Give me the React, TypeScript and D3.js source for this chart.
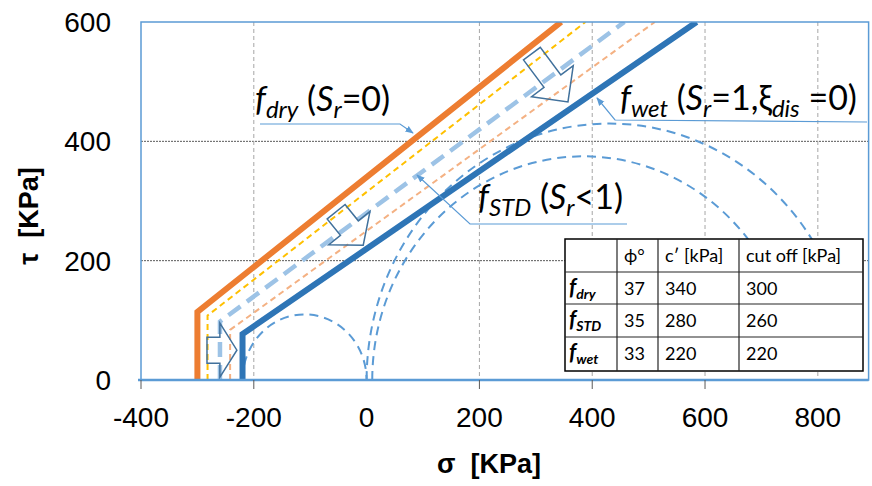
import React from "react";
import * as d3 from "d3";

// failure envelopes: vertex lists (sigma, tau)
const dryLineSigma = [-300, -300, 345];
const dryLineTau = [0, 114, 600];
const yellowLineSigma = [-282, -282, 388];
const yellowLineTau = [0, 108, 600];
const stdLineSigma = [-260, -260, 457];
const stdLineTau = [0, 98, 600];
const salmonLineSigma = [-242, -242, 511];
const salmonLineTau = [0, 84, 600];
const wetLineSigma = [-220, -220, 585];
const wetLineTau = [0, 77, 600];

// Mohr circles (center, radius in kPa)
const circleCenters = [-110, 385, 430];
const circleRadii = [110, 375, 430];

// block arrows: tail -> tip in data units
const arrowTailSigma = [-283, -54, 293];
const arrowTailTau = [50, 282, 547];
const arrowTipSigma = [-230, -6, 357];
const arrowTipTau = [50, 226, 466];

const xTicks = [-400, -200, 0, 200, 400, 600, 800];
const xTickMarks = [-400, -200, 200, 400, 600];
const xGrid = [-200, 200, 400, 600, 800];
const yTicks = [0, 200, 400, 600];
const yGrid = [200, 400];

// table
const tableHeaders = ["", "ϕ°", "c′ [kPa]", "cut off [kPa]"];
const tableNames = ["dry", "STD", "wet"];
const tablePhi = [37, 35, 33];
const tableCohesion = [340, 280, 220];
const tableCutOff = [300, 260, 220];

const W = 872;
const H = 486;
const left = 141;
const right = 868.6;
const top = 22;
const bottom = 380;

const x = d3.scaleLinear().domain([-400, 890]).range([left, right]);
const y = d3.scaleLinear().domain([0, 600]).range([bottom, top]);

const FONT = "Liberation Sans, Arial, sans-serif";
const CAL = "Lato, sans-serif";

const zipPts = (s: number[], t: number[]) => s.map((v, i) => [v, t[i]] as [number, number]);

const lineGen = d3
  .line<[number, number]>()
  .x((d) => x(d[0]))
  .y((d) => y(d[1]));

function blockArrow(i: number, bodyW: number, headW: number, headL: number) {
  const x0 = x(arrowTailSigma[i]);
  const y0 = y(arrowTailTau[i]);
  const x1 = x(arrowTipSigma[i]);
  const y1 = y(arrowTipTau[i]);
  const len = Math.hypot(x1 - x0, y1 - y0);
  const ux = (x1 - x0) / len;
  const uy = (y1 - y0) / len;
  const nx = -uy;
  const ny = ux;
  const bx = x1 - ux * headL;
  const by = y1 - uy * headL;
  const p = (px: number, py: number, off: number) => [px + nx * off, py + ny * off];
  const pts = [
    p(x0, y0, bodyW / 2),
    p(bx, by, bodyW / 2),
    p(bx, by, headW / 2),
    [x1, y1],
    p(bx, by, -headW / 2),
    p(bx, by, -bodyW / 2),
    p(x0, y0, -bodyW / 2),
  ];
  return "M" + pts.map((q) => q.join(",")).join("L") + "Z";
}

function semicircle(c: number, r: number) {
  const rx = x(c + r) - x(c);
  const ry = y(0) - y(r);
  return `M${x(c - r)},${y(0)} A${rx},${ry} 0 0 1 ${x(c + r)},${y(0)}`;
}

const LBL = 34;
const SUB = 24;

const Label = ({ x0, y0, name, tail }: { x0: number; y0: number; name: string; tail: React.ReactNode }) => (
  <text x={x0} y={y0} fontFamily={CAL} fontSize={LBL} fill="#000">
    <tspan fontStyle="italic">f</tspan>
    <tspan fontStyle="italic" fontSize={SUB} dy={7}>
      {name}
    </tspan>
    <tspan dy={-7}> (</tspan>
    <tspan fontStyle="italic">S</tspan>
    <tspan fontStyle="italic" fontSize={SUB} dy={7}>
      r
    </tspan>
    {tail}
  </text>
);

export default function App() {
  const envelopes = [
    { pts: zipPts(yellowLineSigma, yellowLineTau), color: "#FFC000", w: 2, dash: "6,4" },
    { pts: zipPts(salmonLineSigma, salmonLineTau), color: "#F4B183", w: 2, dash: "6,4" },
    { pts: zipPts(stdLineSigma, stdLineTau), color: "#9DC3E6", w: 4.5, dash: "15,8" },
    { pts: zipPts(dryLineSigma, dryLineTau), color: "#ED7D31", w: 6, dash: undefined },
    { pts: zipPts(wetLineSigma, wetLineTau), color: "#2E75B6", w: 6, dash: undefined },
  ];

  const arrowDims = [
    [26, 54, 17],
    [23, 53, 22],
    [21, 52, 26],
  ];

  // table layout
  const colX = [565, 617, 658, 739, 863];
  const rowY = [239, 272, 304, 337, 371];

  // circles are hidden behind the table down to the axis
  const circleClip =
    `M${left},${top}H${right}V${bottom}H${left}Z ` +
    `M${colX[0]},${rowY[0]}H${colX[4]}V${bottom}H${colX[0]}Z`;

  return (
    <svg
      width={W}
      height={H}
      style={{ position: "absolute", left: 0, top: 0, background: "#fff" }}
    >
      <defs>
        <clipPath id="plot">
          <rect x={left} y={top} width={right - left} height={bottom - top} />
        </clipPath>
        <clipPath id="circles">
          <path d={circleClip} clipRule="evenodd" />
        </clipPath>
        <marker id="ah" viewBox="0 0 10 10" refX="9" refY="5" markerWidth="7" markerHeight="7" orient="auto">
          <path d="M0,1 L10,5 L0,9 Z" fill="#5B9BD5" />
        </marker>
      </defs>

      {/* gridlines */}
      {yGrid.map((t) => (
        <line key={"gy" + t} x1={left} x2={right} y1={y(t)} y2={y(t)} stroke="#595959" strokeWidth={1} strokeDasharray="2,1" />
      ))}
      {xGrid.map((s) => (
        <line key={"gx" + s} x1={x(s)} x2={x(s)} y1={top} y2={bottom} stroke="#A6A6A6" strokeWidth={1} strokeDasharray="4,3" />
      ))}

      {/* Mohr circles */}
      <g clipPath="url(#circles)">
        {circleCenters.map((c, i) => (
          <path key={"c" + i} d={semicircle(c, circleRadii[i])} fill="none" stroke="#5B9BD5" strokeWidth={2} strokeDasharray="9,6" />
        ))}
      </g>

      <g clipPath="url(#plot)">
        {envelopes.map((e, i) => (
          <path
            key={"e" + i}
            d={lineGen(e.pts) || ""}
            fill="none"
            stroke={e.color}
            strokeWidth={e.w}
            strokeDasharray={e.dash}
            strokeLinejoin="miter"
          />
        ))}
        {arrowDims.map((d, i) => (
          <path key={"a" + i} d={blockArrow(i, d[0], d[1], d[2])} fill="none" stroke="#41719C" strokeWidth={1.5} strokeLinejoin="miter" />
        ))}
      </g>

      {/* plot frame */}
      <rect x={left} y={top} width={right - left} height={bottom - top} fill="none" stroke="#5B9BD5" strokeWidth={1.5} />
      <line x1={left - 3} x2={right} y1={bottom} y2={bottom} stroke="#5B9BD5" strokeWidth={2.5} />
      {xTickMarks.map((s) => (
        <line key={"tm" + s} x1={x(s)} x2={x(s)} y1={bottom} y2={bottom + 9} stroke="#595959" strokeWidth={1} />
      ))}

      {/* tick labels */}
      {xTicks.map((s) => (
        <text key={"xt" + s} x={x(s)} y={427} textAnchor="middle" fontFamily={FONT} fontSize={28} fill="#000">
          {s}
        </text>
      ))}
      {yTicks.map((t) => (
        <text key={"yt" + t} x={111} y={y(t) + 10} textAnchor="end" fontFamily={FONT} fontSize={28} fill="#000">
          {t}
        </text>
      ))}

      {/* axis titles */}
      <text x={489} y={473} textAnchor="middle" fontFamily={FONT} fontSize={27} fontWeight="bold">
        σ{"\u00a0\u00a0"}[KPa]
      </text>
      <text transform="translate(38,216) rotate(-90)" textAnchor="middle" fontFamily={FONT} fontSize={27} fontWeight="bold">
        τ{"\u00a0\u00a0"}[KPa]
      </text>

      {/* callouts */}
      <polyline points="260,124 400,124 413,133" fill="none" stroke="#5B9BD5" strokeWidth={1.2} markerEnd="url(#ah)" />
      <polyline points="627,224 470,224 417,175" fill="none" stroke="#5B9BD5" strokeWidth={1.2} markerEnd="url(#ah)" />
      <polyline points="867,122 615,120 597,98" fill="none" stroke="#5B9BD5" strokeWidth={1.2} markerEnd="url(#ah)" />

      <Label x0={255} y0={111} name="dry" tail={<tspan dy={-7}>=0)</tspan>} />
      <Label x0={478} y0={209} name="STD" tail={<tspan dy={-7}>&lt;1)</tspan>} />
      <Label
        x0={620}
        y0={110}
        name="wet"
        tail={
          <>
            <tspan dy={-7}>=1,ξ</tspan>
            <tspan fontStyle="italic" fontSize={SUB} dy={7}>
              dis
            </tspan>
            <tspan dy={-7}> =0)</tspan>
          </>
        }
      />

      {/* table */}
      <g>
        <rect x={colX[0]} y={rowY[0]} width={colX[4] - colX[0]} height={rowY[4] - rowY[0]} fill="#fff" stroke="#000" strokeWidth={1.5} />
        {rowY.slice(1, 4).map((ry) => (
          <line key={"tr" + ry} x1={colX[0]} x2={colX[4]} y1={ry} y2={ry} stroke="#262626" strokeWidth={1.2} />
        ))}
        {colX.slice(1, 4).map((cx) => (
          <line key={"tc" + cx} x1={cx} x2={cx} y1={rowY[0]} y2={rowY[4]} stroke="#262626" strokeWidth={1.2} />
        ))}
        {tableHeaders.map((h, i) =>
          h ? (
            <text key={"th" + i} x={colX[i] + 7} y={rowY[0] + 23} fontFamily={CAL} fontSize={18} fill="#000">
              {h}
            </text>
          ) : null
        )}
        {tableNames.map((n, r) => {
          const by = rowY[r + 1] + 23;
          return (
            <g key={"row" + n}>
              <text x={colX[0] + 4} y={by} fontFamily={CAL} fontWeight="bold" fontStyle="italic" fill="#000">
                <tspan fontSize={22}>f</tspan>
                <tspan fontSize={14} dy={4}>
                  {n}
                </tspan>
              </text>
              <text x={colX[1] + 7} y={by} fontFamily={CAL} fontSize={18} fill="#000">
                {tablePhi[r]}
              </text>
              <text x={colX[2] + 7} y={by} fontFamily={CAL} fontSize={18} fill="#000">
                {tableCohesion[r]}
              </text>
              <text x={colX[3] + 7} y={by} fontFamily={CAL} fontSize={18} fill="#000">
                {tableCutOff[r]}
              </text>
            </g>
          );
        })}
      </g>
    </svg>
  );
}
